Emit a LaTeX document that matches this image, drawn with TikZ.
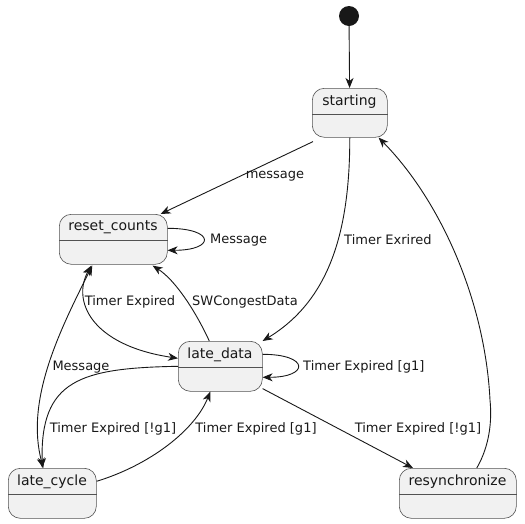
\documentclass[tikz,border=0pt]{standalone}
\usepackage{fontspec}
\setmainfont{DejaVu Sans}
\usetikzlibrary{arrows.meta,calc}
\definecolor{boxfill}{HTML}{F1F1F1}
\definecolor{ink}{HTML}{181818}
\tikzset{
  statebox/.style={draw=ink!75, line width=0.6pt, fill=boxfill, rounded corners=12pt,
    rectangle, anchor=north west, inner sep=0pt},
  title/.style={font=\fontsize{14pt}{16pt}\selectfont, text=ink, inner sep=0pt},
  lbl/.style={font=\fontsize{13pt}{15pt}\selectfont, text=ink, inner sep=0pt},
  arr/.style={draw=ink, line width=0.9pt, -{Stealth[length=10pt,width=8pt,inset=3pt]}},
  arrb/.style={draw=ink, line width=0.9pt, {Stealth[length=10pt,width=8pt,inset=3pt]}-{Stealth[length=10pt,width=8pt,inset=3pt]}},
  divider/.style={draw=ink!75, line width=0.6pt}
}
\begin{document}
\begin{tikzpicture}[x=1pt,y=-1pt]
\useasboundingbox (0,0) rectangle (525,523);

% initial state
\node[circle, fill=ink, minimum size=20pt, inner sep=0pt] (init) at (349,16) {};

% states
\node[statebox, minimum width=75pt, minimum height=49pt] (starting) at (312,88) {};
\node[title] (starting-t) at (349.5,101.5) {starting};
\draw[divider] ($(starting.north west)+(0,26)$) -- ($(starting.north east)+(0,26)$);

\node[statebox, minimum width=108pt, minimum height=50pt] (reset) at (59,214) {};
\node[title] (reset-t) at (113,227.5) {reset\_counts};
\draw[divider] ($(reset.north west)+(0,26)$) -- ($(reset.north east)+(0,26)$);

\node[statebox, minimum width=84pt, minimum height=50pt] (late) at (178,341) {};
\node[title] (late-t) at (220,354.5) {late\_data};
\draw[divider] ($(late.north west)+(0,26)$) -- ($(late.north east)+(0,26)$);

\node[statebox, minimum width=88pt, minimum height=50pt] (cycle) at (8,468) {};
\node[title] (cycle-t) at (52,481.5) {late\_cycle};
\draw[divider] ($(cycle.north west)+(0,26)$) -- ($(cycle.north east)+(0,26)$);

\node[statebox, minimum width=117pt, minimum height=50pt] (resync) at (399,468) {};
\node[title] (resync-t) at (457.5,481.5) {resynchronize};
\draw[divider] ($(resync.north west)+(0,26)$) -- ($(resync.north east)+(0,26)$);

% connectors
\draw[arr] (init) -- (starting);

\draw[arr] ([shift={(1pt,-4pt)}]starting.south west) -- ([xshift=-7pt]reset.north east);
\node[lbl] (l-message) at (275,176) {message};

\draw[arr] ([yshift=11pt]reset.east) .. controls +(48,0) and +(48,0) .. ([yshift=-11pt]reset.east);
\node[lbl, anchor=west] (l-msg2) at (210,240) {Message};

\draw[arr] (starting.south) .. controls +(0,93) and (330,300) .. (late.north east);
\node[lbl, anchor=west] (l-exrired) at (344,240) {Timer Exrired};

\draw[arr] ([xshift=19pt]resync.north) .. controls (490,445) and (492,420) .. (490,400)
  .. controls (485,300) and (440,200) .. ([xshift=-9pt]starting.south east);

\draw[arrb] ([shift={(-22pt,-1pt)}]reset.south) .. controls (72,300) and (90,345) .. ([yshift=8pt]late.west);
\node[lbl] (l-te) at (130,302) {Timer Expired};

\draw[arr] ([xshift=-11pt]late.north) .. controls (195,310) and (175,280) .. ([shift={(-15pt,-1pt)}]reset.south east);
\node[lbl] (l-sw) at (245,302) {SWCongestData};

\draw[arrb] ([shift={(-21pt,-1pt)}]reset.south) .. controls (60,330) and (25,400) .. ([xshift=-9pt]cycle.north);
\node[lbl] (l-msg3) at (81,367) {Message};

\draw[arr] (late.west) .. controls (80,368) and (40,380) .. ([xshift=-10pt]cycle.north);
\node[lbl] (l-ng1a) at (113,429) {Timer Expired [!g1]};

\draw[arr] ([yshift=12pt]cycle.east) .. controls (150,465) and (195,430) .. ([xshift=-10pt]late.south);
\node[lbl] (l-g1a) at (256,429) {Timer Expired [g1]};

\draw[arr] ([yshift=12pt]late.east) .. controls +(47,0) and +(47,0) .. ([yshift=-11pt]late.east);
\node[lbl, anchor=west] (l-g1b) at (303,367) {Timer Expired [g1]};

\draw[arr] ([yshift=3pt]late.south east) -- ([xshift=14pt]resync.north west);
\node[lbl] (l-ng1b) at (418,429) {Timer Expired [!g1]};
\end{tikzpicture}
\end{document}
